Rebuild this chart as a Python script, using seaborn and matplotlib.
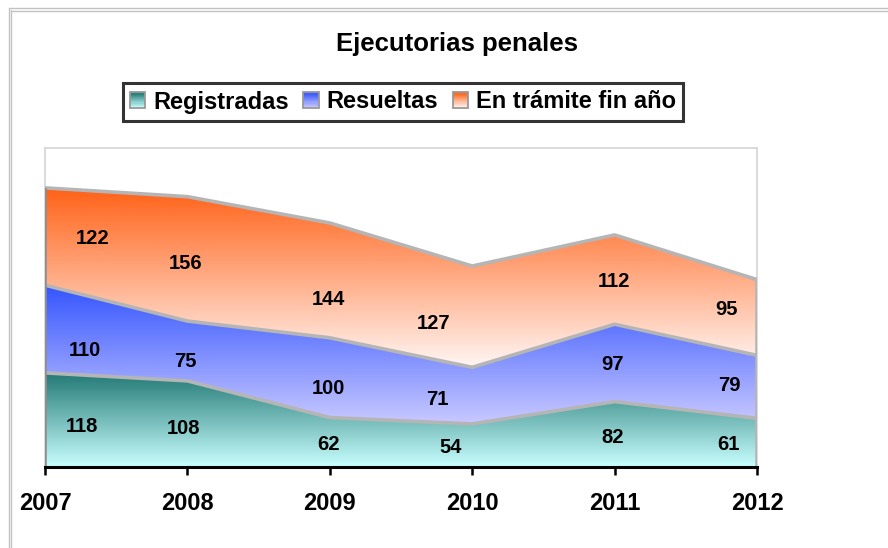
import numpy as np
import pandas as pd
import matplotlib
matplotlib.use("Agg")
import matplotlib.pyplot as plt
import seaborn as sns
from matplotlib.colors import LinearSegmentedColormap
from matplotlib.patches import Patch, Rectangle
from matplotlib.legend_handler import HandlerBase
from matplotlib.lines import Line2D

# ---------------- data ----------------
years = [2007, 2008, 2009, 2010, 2011, 2012]
registradas = [118, 108, 62, 54, 82, 61]
resueltas = [110, 75, 100, 71, 97, 79]
en_tramite = [122, 156, 144, 127, 112, 95]

series_names = ["Registradas", "Resueltas", "En trámite fin año"]
series_values = [registradas, resueltas, en_tramite]

# gradient colours (top, bottom) for each layer
gradients = [
    ("#217874", "#c9ffff"),
    ("#3455ff", "#c9c9ff"),
    ("#ff6116", "#fff6f4"),
]

# label nudges in pixels (Excel puts the value labels a bit off-centre)
label_dx_px = [
    [37, -4, -1, -22, -2, -29],
    [40, -2, -1, -35, -2, -28],
    [48, -2, -1, -39, -1, -31],
]
label_dy_px = [
    [5, 3, 0, 0, 1, 0],
    [19, 9, 9, 2, 0, -3],
    [0, 3, 17, 5, 0, -10],
]

sns.set_theme(style="white")
plt.rcParams["font.family"] = ["Liberation Sans", "DejaVu Sans"]
plt.rcParams["text.color"] = "black"
plt.rcParams["xtick.color"] = "black"

W, H = 888, 548
fig = plt.figure(figsize=(W / 100, H / 100), dpi=100)
ax = fig.add_axes([45 / W, (H - 467) / H, (757 - 45) / W, (467 - 148) / H])

x = np.array(years, dtype=float)
lower = np.zeros(len(years))
tops = []
cmaps = []
for name, vals, (c_top, c_bot), dxs, dys in zip(series_names, series_values,
                                                gradients, label_dx_px,
                                                label_dy_px):
    vals = np.array(vals, dtype=float)
    upper = lower + vals
    poly = ax.fill_between(x, lower, upper, color="none", lw=0)
    cmap = LinearSegmentedColormap.from_list(name, [c_bot, c_top])
    cmaps.append(cmap)
    grad = np.linspace(0, 1, 256).reshape(-1, 1)
    im = ax.imshow(grad, cmap=cmap, origin="lower", aspect="auto",
                   extent=[x[0], x[-1], lower.min(), upper.max()],
                   interpolation="bilinear", zorder=1)
    im.set_clip_path(poly.get_paths()[0], transform=ax.transData)

    for xi, lo, v, dx, dy in zip(x, lower, vals, dxs, dys):
        ax.annotate(f"{int(v)}", xy=(xi, lo + v / 2),
                    xytext=(dx * 0.72, -(dy + 2) * 0.72),
                    textcoords="offset points",
                    ha="center", va="center", fontsize=14.5,
                    fontweight="bold", color="black", zorder=5)

    tops.append(pd.DataFrame({"year": x, "top": upper, "serie": name}))
    lower = upper

# grey edges on top of each layer
edges = pd.concat(tops, ignore_index=True)
sns.lineplot(data=edges, x="year", y="top", hue="serie",
             palette=["#b5b5b5"] * 3, linewidth=2.6, legend=False,
             ax=ax, zorder=3)
ax.vlines(x[0], 0, lower[0], color="#8e8e8e", lw=2.6, zorder=3)
ax.vlines(x[-1], 0, lower[-1], color="#b5b5b5", lw=2.6, zorder=3)

ax.set_xlim(2007, 2012)
ax.set_ylim(0, 400)
ax.set_xlabel("")
ax.set_ylabel("")
ax.set_yticks([])
ax.set_xticks(years)
ax.set_xticklabels([str(y) for y in years], fontsize=17, fontweight="bold")
ax.tick_params(axis="x", direction="out", length=6, width=1.8,
               color="black", labelcolor="black", pad=12, bottom=True)

for side in ["top", "right", "left"]:
    ax.spines[side].set_color("#d4d4d4")
    ax.spines[side].set_linewidth(1.2)
ax.spines["bottom"].set_color("black")
ax.spines["bottom"].set_linewidth(2.2)
ax.spines["bottom"].set_zorder(6)

# title
fig.text(457 / W, 1 - 44 / H, "Ejecutorias penales", ha="center", va="center",
         fontsize=18.5, fontweight="bold", color="black")


# legend with gradient swatches
class GradientHandler(HandlerBase):
    def create_artists(self, legend, orig_handle, xdescent, ydescent,
                       width, height, fontsize, trans):
        cm = orig_handle.cmap_grad
        n = 14
        arts = []
        for i in range(n):
            arts.append(Rectangle((-xdescent, -ydescent + height * i / n),
                                  width, height / n + 0.2,
                                  facecolor=cm(i / (n - 1)), edgecolor="none",
                                  transform=trans))
        arts.append(Rectangle((-xdescent, -ydescent), width, height,
                              facecolor="none", edgecolor="#999999", lw=1.3,
                              transform=trans))
        return arts


handles = []
for name, cm in zip(series_names, cmaps):
    p = Patch(label=name)
    p.cmap_grad = cm
    handles.append(p)

leg = fig.legend(handles=handles, labels=series_names, loc="center",
                 bbox_to_anchor=(403 / W, 1 - 102 / H), ncol=3,
                 handler_map={Patch: GradientHandler()},
                 prop={"size": 17, "weight": "bold"},
                 frameon=True, fancybox=False, edgecolor="black",
                 handlelength=0.65, handleheight=0.65, handletextpad=0.35,
                 columnspacing=0.6, borderpad=0.3, borderaxespad=0)
leg.get_frame().set_linewidth(2.2)
for t in leg.get_texts():
    t.set_color("black")

# outer double frame
for px in [8.5, 10.5]:
    fig.add_artist(Line2D([px / W, px / W], [0, 1 - (px - 1) / H],
                          color="#c2c2c2", lw=1.0))
for py in [7.5, 10.5]:
    fig.add_artist(Line2D([(py + 1) / W, 1], [1 - py / H, 1 - py / H],
                          color="#c2c2c2", lw=1.0))

fig.savefig("out.png", dpi=100)
